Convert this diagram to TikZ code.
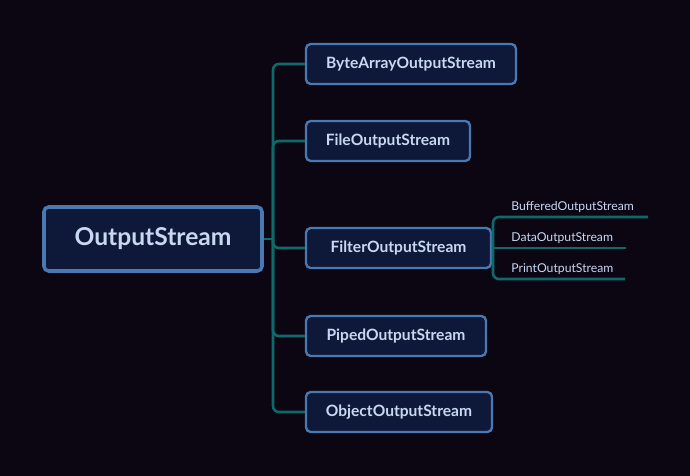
\documentclass[tikz,border=0pt]{standalone}
\usepackage{fontspec}
\setmainfont{Lato}
\usetikzlibrary{positioning}
\definecolor{bg}{HTML}{0B0612}
\definecolor{boxfill}{HTML}{0E1838}
\definecolor{boxline}{HTML}{4A78B0}
\definecolor{txt}{HTML}{C8D8F2}
\definecolor{teal}{HTML}{0E6A6A}
\tikzset{root/.append style={draw=boxline,fill=boxfill,line width=3pt,rounded corners=4pt,text=txt,minimum width=6.54cm,minimum height=1.92cm,font=\fontsize{21}{23}\selectfont\bfseries}}
\tikzset{kid/.append style={draw=boxline,fill=boxfill,line width=2pt,rounded corners=4pt,text=txt,minimum height=1.2cm,font=\fontsize{13.3}{15}\selectfont\bfseries}}
\tikzset{leaf/.append style={text=txt,anchor=south west,inner sep=1pt,font=\fontsize{10.4}{12}\selectfont}}
\tikzset{br/.append style={draw=teal,line width=2.2pt,rounded corners=5pt}}

\begin{document}
\begin{tikzpicture}[x=0.03cm,y=-0.03cm]
                \fill[bg] (0,0) rectangle (690,476);
                \useasboundingbox (0,0) rectangle (690,476);
                % root and children
                \node[root] (os) at (153,239) {OutputStream};
                \node[kid,minimum width=6.3cm] (ba) at (411,64) {ByteArrayOutputStream};
                \node[kid,minimum width=4.92cm] (fo) at (388,141) {FileOutputStream};
                \node[kid,minimum width=5.55cm] (fi) at (398.5,248) {FilterOutputStream};
                \node[kid,minimum width=5.4cm] (pi) at (396,336) {PipedOutputStream};
                \node[kid,minimum width=5.58cm] (ob) at (399,412) {ObjectOutputStream};
                \coordinate (tr) at (273,239);
                \draw[br] (os.east) -- (tr);
                \foreach \k in {ba,fo,fi,pi,ob}
                    \draw[br] (tr) |- (\k.west);
                % filter leaves
                \coordinate (st) at (493,248);
                \coordinate (bu) at (648,217);
                \coordinate (da) at (626,248);
                \coordinate (pr) at (625,279);
                \node[leaf] (bul) at (510,214) {BufferedOutputStream};
                \node[leaf] (dal) at (510,245) {DataOutputStream};
                \node[leaf] (prl) at (510,276) {PrintOutputStream};
                \draw[br] (fi.east) -- (da);
                \draw[br] (st) |- (bu);
                \draw[br] (st) |- (pr);
\end{tikzpicture}
\end{document}
